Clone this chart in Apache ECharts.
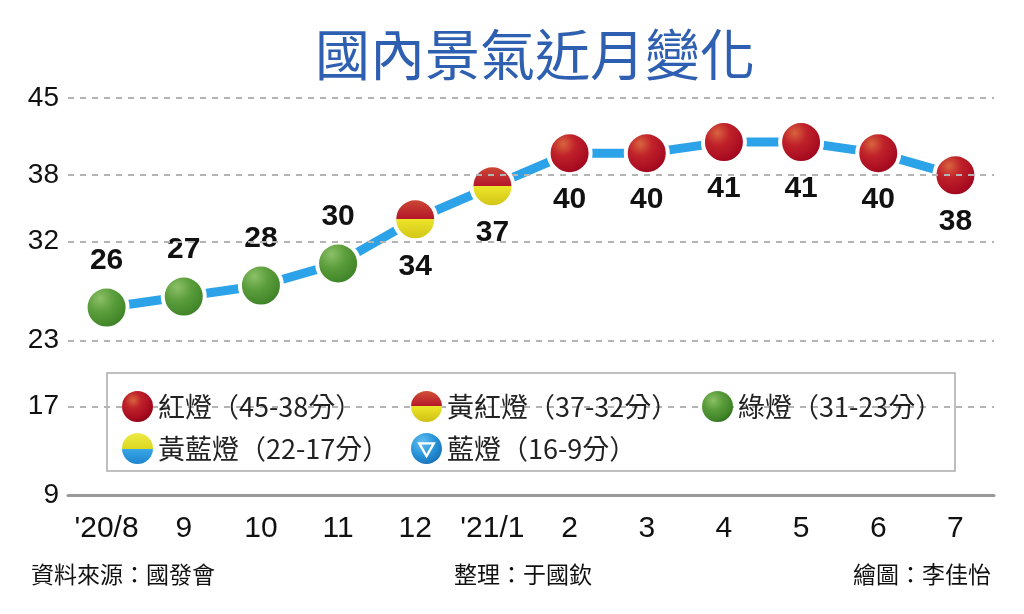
<!DOCTYPE html>
<html>
<head>
<meta charset="utf-8">
<script src="https://cdn.jsdelivr.net/npm/echarts@6/dist/echarts.min.js"></script>
<style>
  html, body { margin: 0; padding: 0; background: #fff; }
  #chart { width: 1024px; height: 614px; }
</style>
</head>
<body>
<div id="chart"></div>
<script>
// months and monthly business-climate scores
var months = ["'20/8", '9', '10', '11', '12', "'21/1", '2', '3', '4', '5', '6', '7'];
var scores = [26, 27, 28, 30, 34, 37, 40, 40, 41, 41, 40, 38];
var yTicks = [9, 17, 23, 32, 38, 45];
var lightNames = ['紅燈（45-38分）', '黃紅燈（37-32分）', '綠燈（31-23分）', '黃藍燈（22-17分）', '藍燈（16-9分）'];

var NUM_FONT = "'Liberation Sans', Arial, sans-serif";
var CJK_FONT = "'Noto Sans CJK TC', 'Noto Sans CJK SC', sans-serif";

// marker fills
var red = {
    type: 'radial', x: 0.36, y: 0.3, r: 0.75,
    colorStops: [
        {offset: 0, color: '#d8643e'},
        {offset: 0.35, color: '#c0222a'},
        {offset: 0.8, color: '#a60a20'},
        {offset: 1, color: '#880616'}
    ]
};
var green = {
    type: 'radial', x: 0.36, y: 0.3, r: 0.75,
    colorStops: [
        {offset: 0, color: '#8cc068'},
        {offset: 0.4, color: '#5c9e3c'},
        {offset: 0.85, color: '#3f8428'},
        {offset: 1, color: '#2f6a1e'}
    ]
};
var yellowRed = {
    type: 'linear', x: 0, y: 0, x2: 0, y2: 1,
    colorStops: [
        {offset: 0, color: '#d05236'},
        {offset: 0.5, color: '#b4152a'},
        {offset: 0.5, color: '#ece42a'},
        {offset: 1, color: '#cfc014'}
    ]
};
var yellowBlue = {
    type: 'linear', x: 0, y: 0, x2: 0, y2: 1,
    colorStops: [
        {offset: 0, color: '#eeea48'},
        {offset: 0.5, color: '#dcd820'},
        {offset: 0.5, color: '#3aa8e8'},
        {offset: 1, color: '#1e84cc'}
    ]
};
var blue = {
    type: 'radial', x: 0.36, y: 0.3, r: 0.75,
    colorStops: [
        {offset: 0, color: '#62bff2'},
        {offset: 0.6, color: '#2692d8'},
        {offset: 1, color: '#1a70b8'}
    ]
};
var lightColors = [red, yellowRed, green, yellowBlue, blue];

// circle with a hollow down-triangle (blue light icon)
var blueIcon = 'path://M10,0 C15.523,0 20,4.477 20,10 C20,15.523 15.523,20 10,20 C4.477,20 0,15.523 0,10 C0,4.477 4.477,0 10,0 Z ' +
    'M4,6 L10,16.4 L16,6 Z M6.6,7.4 L13.4,7.4 L10,13.4 Z';

function lightOf(v) {
    if (v >= 38) return 0;
    if (v >= 32) return 1;
    if (v >= 23) return 2;
    if (v >= 17) return 3;
    return 4;
}

var pointData = scores.map(function (v) {
    var k = lightOf(v);
    return {
        value: v,
        itemStyle: {color: lightColors[k]},
        label: {position: k === 2 ? 'top' : 'bottom'}
    };
});

var series = [{
    type: 'line',
    z: 1,
    data: [],
    silent: true,
    markLine: {
        silent: true,
        symbol: ['none', 'none'],
        label: {show: false},
        lineStyle: {color: '#b4b4b4', width: 2, type: [6, 6]},
        data: yTicks.slice(1).map(function (t) { return {yAxis: t}; })
    }
}, {
    name: 'score',
    type: 'line',
    z: 3,
    data: pointData,
    symbol: 'circle',
    symbolSize: 42,
    lineStyle: {color: '#2ca3e8', width: 9},
    itemStyle: {borderColor: '#fff', borderWidth: 4},
    label: {
        show: true,
        distance: 9,
        color: '#111',
        fontFamily: NUM_FONT,
        fontWeight: 'bold',
        fontSize: 30
    }
}];

lightNames.forEach(function (n, i) {
    series.push({
        name: n,
        type: 'scatter',
        data: [],
        itemStyle: {color: lightColors[i], opacity: 1}
    });
});

// one legend per entry so the two rows line up in columns
var legendSpots = [[117, 386], [406, 386], [697, 386], [117, 428], [406, 428]];
var legends = lightNames.map(function (n, i) {
    return {
        z: 10,
        left: legendSpots[i][0],
        top: legendSpots[i][1],
        itemWidth: 31,
        itemHeight: 31,
        selectedMode: false,
        textStyle: {fontFamily: CJK_FONT, fontSize: 27, color: '#222'},
        data: [{name: n, icon: i === 4 ? blueIcon : 'circle', itemStyle: {opacity: 1}}]
    };
});

var myChart = echarts.init(document.getElementById('chart'));
myChart.setOption({
    animation: false,
    title: [{
        text: '國內景氣近月變化',
        left: 310,
        top: 22,
        textStyle: {fontFamily: CJK_FONT, fontSize: 55, fontWeight: 'normal', color: '#2f5fb0'}
    }, {
        text: '資料來源：國發會',
        left: 26,
        top: 558,
        textStyle: {fontFamily: CJK_FONT, fontSize: 23, fontWeight: 'normal', color: '#111'}
    }, {
        text: '整理：于國欽',
        left: 449,
        top: 558,
        textStyle: {fontFamily: CJK_FONT, fontSize: 23, fontWeight: 'normal', color: '#111'}
    }, {
        text: '繪圖：李佳怡',
        right: 28,
        top: 558,
        textStyle: {fontFamily: CJK_FONT, fontSize: 23, fontWeight: 'normal', color: '#111'}
    }],
    grid: {left: 68, right: 30, top: 98, bottom: 119},
    xAxis: {
        type: 'category',
        data: months,
        boundaryGap: true,
        axisLine: {lineStyle: {color: '#999', width: 3}},
        axisTick: {alignWithLabel: true, interval: 0, length: 10, lineStyle: {color: '#999', width: 3}},
        axisLabel: {interval: 0, margin: 19, color: '#111', fontFamily: NUM_FONT, fontSize: 30}
    },
    yAxis: {
        type: 'value',
        min: 9,
        max: 45,
        axisLine: {show: false},
        axisTick: {show: false},
        splitLine: {show: false},
        axisLabel: {customValues: yTicks, margin: 9, color: '#111', fontFamily: NUM_FONT, fontSize: 28}
    },
    legend: legends,
    graphic: [{
        type: 'rect',
        z: 5,
        shape: {x: 107, y: 373, width: 848, height: 98},
        style: {fill: '#fff', stroke: '#aaa', lineWidth: 1.5}
    }],
    series: series
});
</script>
</body>
</html>
